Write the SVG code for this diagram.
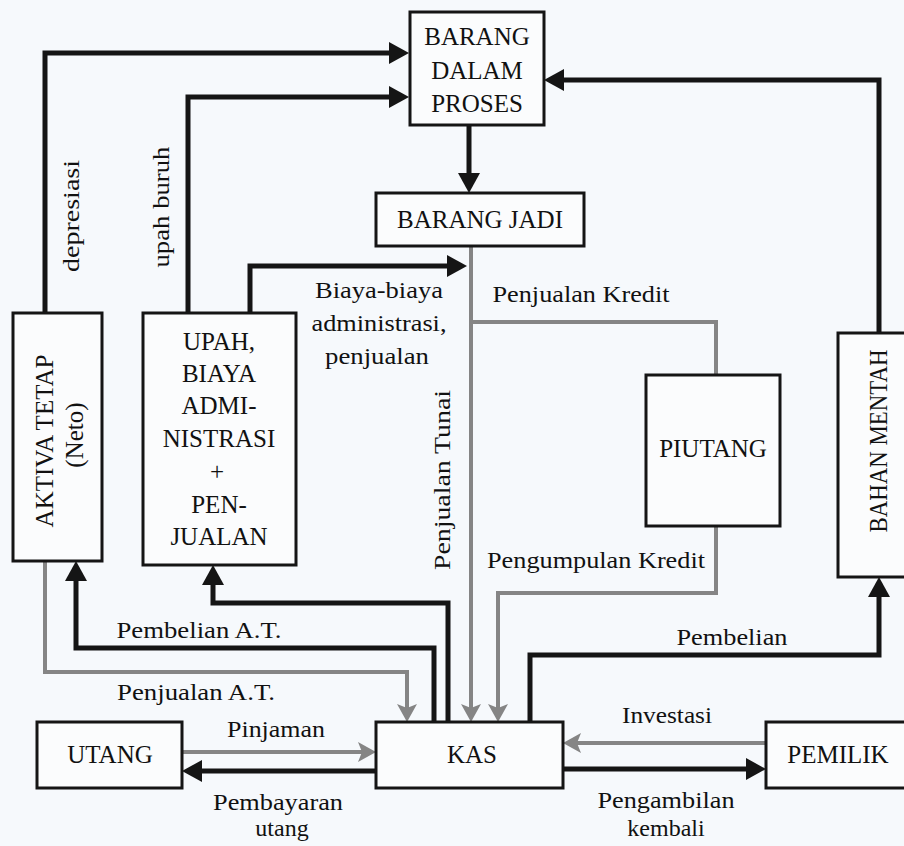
<svg xmlns="http://www.w3.org/2000/svg" width="904" height="846" viewBox="0 0 904 846">
<defs>
<style>
.bg{fill:#f6f9fc}
.box{fill:#fbfcfd;stroke:#151515;stroke-width:3}
.nt{font-family:"Liberation Serif","Times New Roman",serif;font-size:25px;fill:#111;text-anchor:middle}
.lb{font-family:"Liberation Serif","Times New Roman",serif;font-size:24px;fill:#111;text-anchor:middle}
.blk{fill:none;stroke:#151515;stroke-width:5;marker-end:url(#ab)}
.gry{fill:none;stroke:#858585;stroke-width:4}
.gra{marker-end:url(#ag)}
</style>
<marker id="ab" viewBox="0 0 20 22" refX="6" refY="11" markerWidth="20" markerHeight="22" markerUnits="userSpaceOnUse" orient="auto">
<path d="M0,0 L20,11 L0,22 Z" fill="#151515"/>
</marker>
<marker id="ag" viewBox="0 0 18 20" refX="4" refY="10" markerWidth="18" markerHeight="20" markerUnits="userSpaceOnUse" orient="auto">
<path d="M0,0 L18,10 L0,20 L4,10 Z" fill="#858585"/>
</marker>
</defs>
<rect class="bg" x="0" y="0" width="904" height="846"/>

<g id="connectors">
<path class="blk" d="M45,313 V53 H395"/>
<path class="blk" d="M188,313 V97 H395"/>
<path class="blk" d="M879,333 V80 H558"/>
<path class="blk" d="M469,125 V179"/>
<path class="blk" d="M250,313 V266 H453"/>
<path class="blk" d="M434,722 V648 H76 V575"/>
<path class="blk" d="M448,722 V603 H213 V579"/>
<path class="blk" d="M530,722 V655 H879 V591"/>
<path class="blk" d="M376,771 H196"/>
<path class="blk" d="M563,769 H752"/>
<path class="gry gra" d="M45,561 V672 H407 V708"/>
<path class="gry gra" d="M471,246 V708"/>
<path class="gry" d="M471,322 H716 V375"/>
<path class="gry gra" d="M716,526 V593 H498 V708"/>
<path class="gry gra" d="M182,752 H362"/>
<path class="gry gra" d="M766,743 H577"/>
</g>

<g id="labels">
<text class="lb" transform="translate(79,216) rotate(-90)" textLength="112" lengthAdjust="spacingAndGlyphs">depresiasi</text>
<text class="lb" transform="translate(169,207) rotate(-90)" textLength="121" lengthAdjust="spacingAndGlyphs">upah buruh</text>
<text class="lb" transform="translate(450,480) rotate(-90)" textLength="180" lengthAdjust="spacingAndGlyphs">Penjualan Tunai</text>
<text class="lb" x="379" y="298" textLength="128" lengthAdjust="spacingAndGlyphs">Biaya-biaya</text>
<text class="lb" x="379" y="331" textLength="135" lengthAdjust="spacingAndGlyphs">administrasi,</text>
<text class="lb" x="377" y="364" textLength="104" lengthAdjust="spacingAndGlyphs">penjualan</text>
<text class="lb" x="581" y="302" textLength="177" lengthAdjust="spacingAndGlyphs">Penjualan Kredit</text>
<text class="lb" x="596" y="568" textLength="218" lengthAdjust="spacingAndGlyphs">Pengumpulan Kredit</text>
<text class="lb" x="199" y="638" textLength="165" lengthAdjust="spacingAndGlyphs">Pembelian A.T.</text>
<text class="lb" x="196" y="700" textLength="158" lengthAdjust="spacingAndGlyphs">Penjualan A.T.</text>
<text class="lb" x="276" y="737" textLength="98" lengthAdjust="spacingAndGlyphs">Pinjaman</text>
<text class="lb" x="278" y="810" textLength="130" lengthAdjust="spacingAndGlyphs">Pembayaran</text>
<text class="lb" x="282" y="836">utang</text>
<text class="lb" x="667" y="723" textLength="90" lengthAdjust="spacingAndGlyphs">Investasi</text>
<text class="lb" x="666" y="808" textLength="137" lengthAdjust="spacingAndGlyphs">Pengambilan</text>
<text class="lb" x="666" y="836">kembali</text>
<text class="lb" x="732" y="645" textLength="111" lengthAdjust="spacingAndGlyphs">Pembelian</text>
</g>

<g id="node-barang-dalam-proses">
<rect class="box" x="410" y="12" width="134" height="113"/>
<text class="nt" x="477" y="45">BARANG</text>
<text class="nt" x="477" y="79">DALAM</text>
<text class="nt" x="477" y="112">PROSES</text>
</g>
<g id="node-barang-jadi">
<rect class="box" x="376" y="193" width="208" height="53"/>
<text class="nt" x="480" y="228">BARANG JADI</text>
</g>
<g id="node-aktiva-tetap">
<rect class="box" x="13" y="313" width="89" height="248"/>
<text class="nt" transform="translate(53,441) rotate(-90)">AKTIVA TETAP</text>
<text class="nt" transform="translate(83,435) rotate(-90)">(Neto)</text>
</g>
<g id="node-upah">
<rect class="box" x="143" y="313" width="153" height="252"/>
<text class="nt" x="219" y="350">UPAH,</text>
<text class="nt" x="219" y="382">BIAYA</text>
<text class="nt" x="219" y="414">ADMI-</text>
<text class="nt" x="219" y="447">NISTRASI</text>
<text class="nt" x="217" y="480">+</text>
<text class="nt" x="219" y="513">PEN-</text>
<text class="nt" x="219" y="545">JUALAN</text>
</g>
<g id="node-piutang">
<rect class="box" x="646" y="375" width="134" height="151"/>
<text class="nt" x="713" y="457">PIUTANG</text>
</g>
<g id="node-bahan-mentah">
<rect class="box" x="838" y="333" width="72" height="244"/>
<text class="nt" transform="translate(887,441) rotate(-90)" textLength="183" lengthAdjust="spacingAndGlyphs">BAHAN MENTAH</text>
</g>
<g id="node-utang">
<rect class="box" x="37" y="722" width="145" height="66"/>
<text class="nt" x="110" y="763">UTANG</text>
</g>
<g id="node-kas">
<rect class="box" x="376" y="722" width="187" height="66"/>
<text class="nt" x="472" y="763">KAS</text>
</g>
<g id="node-pemilik">
<rect class="box" x="766" y="722" width="144" height="66"/>
<text class="nt" x="838" y="763">PEMILIK</text>
</g>
</svg>
